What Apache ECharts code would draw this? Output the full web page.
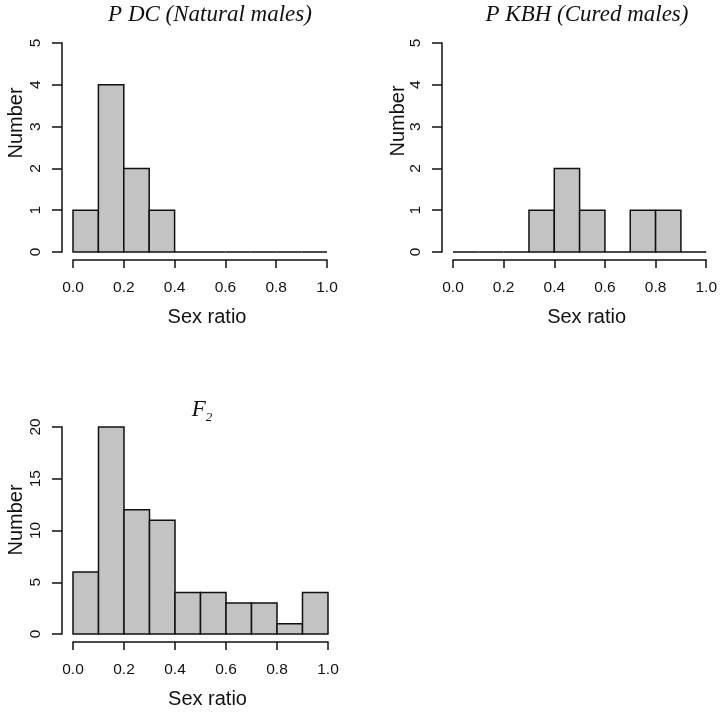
<!DOCTYPE html>
<html>
<head>
<meta charset="utf-8">
<script src="https://cdn.jsdelivr.net/npm/echarts@6/dist/echarts.min.js"></script>
<style>
  html, body { margin: 0; padding: 0; background: #fff; }
  #chart { width: 720px; height: 713px; }
</style>
</head>
<body>
<div id="chart"></div>
<script>
const binEdges = [0, 0.1, 0.2, 0.3, 0.4, 0.5, 0.6, 0.7, 0.8, 0.9, 1.0];
const pdcCounts = [1, 4, 2, 1, 0, 0, 0, 0, 0, 0];
const kbhCounts = [0, 0, 0, 1, 2, 1, 0, 1, 1, 0];
const f2Counts = [6, 20, 12, 11, 4, 4, 3, 3, 1, 4];
const panelTitles = ['P DC (Natural males)', 'P KBH (Cured males)', 'F2'];
const xName = 'Sex ratio';
const yName = 'Number';

const sans = "'Liberation Sans', Arial, Helvetica, sans-serif";
const serif = "'Liberation Serif', 'Times New Roman', serif";
const ink = '#111';

function toBins(counts) {
  return counts.map((n, i) => [binEdges[i], binEdges[i + 1], n]);
}

function histSeries(idx, counts) {
  return {
    type: 'custom',
    xAxisIndex: idx,
    yAxisIndex: idx,
    clip: false,
    encode: {x: [0, 1], y: 2},
    data: toBins(counts),
    renderItem: (params, api) => {
      const top = api.coord([api.value(0), api.value(2)]);
      const base = api.coord([api.value(1), 0]);
      return {
        type: 'rect',
        shape: {x: top[0], y: top[1], width: base[0] - top[0], height: base[1] - top[1]},
        style: {fill: '#c3c3c3', stroke: ink, lineWidth: 1.5},
      };
    },
  };
}

function xAxis(idx) {
  return {
    type: 'value',
    gridIndex: idx,
    min: 0,
    max: 1,
    interval: 0.2,
    offset: 8,
    name: xName,
    nameLocation: 'middle',
    nameGap: 47,
    nameTextStyle: {fontFamily: sans, fontSize: 20, color: ink, padding: [0, 0, 0, 14]},
    axisLine: {show: true, onZero: false, lineStyle: {color: ink, width: 1.5}},
    axisTick: {show: true, length: 8, lineStyle: {color: ink, width: 1.5}},
    axisLabel: {
      color: ink,
      fontFamily: sans,
      fontSize: 15.5,
      margin: 20,
      formatter: (v) => v.toFixed(1),
    },
    splitLine: {show: false},
  };
}

function yAxis(idx, max, interval) {
  return {
    type: 'value',
    gridIndex: idx,
    min: 0,
    max,
    interval,
    offset: 11,
    axisLine: {show: true, onZero: false, lineStyle: {color: ink, width: 1.5}},
    axisTick: {show: true, length: 10, lineStyle: {color: ink, width: 1.5}},
    axisLabel: {color: ink, fontFamily: sans, fontSize: 15.5, rotate: 90, margin: 18},
    splitLine: {show: false},
  };
}

function yTitle(x, y) {
  return {
    type: 'text',
    x,
    y,
    rotation: Math.PI / 2,
    style: {text: yName, font: '20px ' + sans, fill: ink, align: 'center', verticalAlign: 'middle'},
  };
}

const chart = echarts.init(document.getElementById('chart'), null, {renderer: 'canvas'});
chart.setOption({
  backgroundColor: '#fff',
  animation: false,
  title: [
    {
      text: panelTitles[0],
      left: 210,
      top: 3,
      textAlign: 'center',
      padding: 0,
      textStyle: {fontFamily: serif, fontStyle: 'italic', fontWeight: 'normal', fontSize: 23, color: ink},
    },
    {
      text: panelTitles[1],
      left: 587,
      top: 3,
      textAlign: 'center',
      padding: 0,
      textStyle: {fontFamily: serif, fontStyle: 'italic', fontWeight: 'normal', fontSize: 23, color: ink},
    },
    {
      text: '{f|F}{s|2}',
      left: 202,
      top: 396,
      textAlign: 'center',
      padding: 0,
      textStyle: {
        fontWeight: 'normal',
        rich: {
          f: {fontFamily: serif, fontStyle: 'italic', fontWeight: 'normal', fontSize: 23, color: ink, lineHeight: 28},
          s: {fontFamily: serif, fontStyle: 'italic', fontWeight: 'normal', fontSize: 13, color: ink, verticalAlign: 'bottom', lineHeight: 28},
        },
      },
    },
  ],
  grid: [
    {left: 73, top: 43, width: 254, height: 209},
    {left: 453, top: 43, width: 255, height: 209},
    {left: 73, top: 427, width: 255, height: 207},
  ],
  xAxis: [xAxis(0), xAxis(1), xAxis(2)],
  yAxis: [yAxis(0, 5, 1), yAxis(1, 5, 1), yAxis(2, 20, 5)],
  series: [histSeries(0, pdcCounts), histSeries(1, kbhCounts), histSeries(2, f2Counts)],
  graphic: [yTitle(16, 123), yTitle(398, 121), yTitle(16, 520)],
});
</script>
</body>
</html>
